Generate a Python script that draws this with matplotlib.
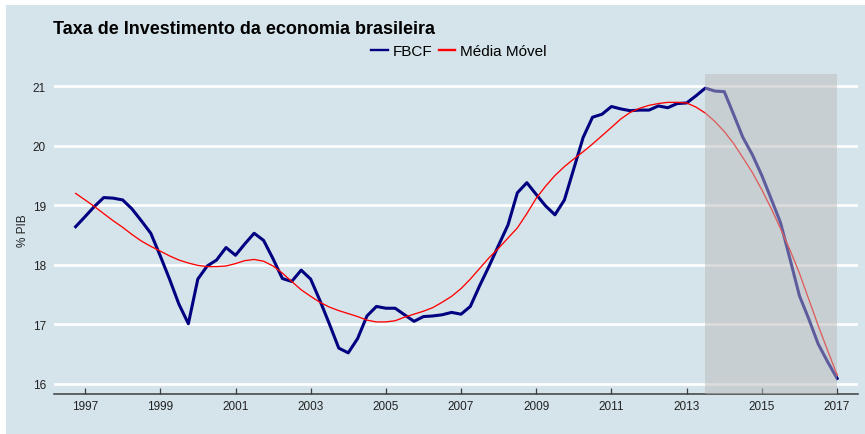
import matplotlib
matplotlib.use("Agg")
import matplotlib.pyplot as plt
import pandas as pd
from matplotlib.patches import Rectangle

# FBCF como % do PIB, trimestral, a partir de 1996T4
fbcf = [18.64, 18.81, 18.98, 19.13, 19.12, 19.09, 18.94, 18.74, 18.53, 18.15,
        17.76, 17.34, 17.01, 17.76, 17.98, 18.08, 18.29, 18.16, 18.35, 18.53,
        18.41, 18.10, 17.77, 17.72, 17.91, 17.76, 17.40, 17.01, 16.60, 16.52,
        16.76, 17.14, 17.30, 17.27, 17.27, 17.16, 17.05, 17.13, 17.14, 17.16,
        17.20, 17.17, 17.30, 17.65, 17.98, 18.33, 18.67, 19.21, 19.38, 19.18,
        18.99, 18.84, 19.09, 19.62, 20.14, 20.48, 20.53, 20.66, 20.62, 20.59,
        20.60, 20.60, 20.67, 20.64, 20.71, 20.72, 20.84, 20.97, 20.92, 20.91,
        20.53, 20.14, 19.85, 19.50, 19.11, 18.71, 18.10, 17.48, 17.09, 16.67,
        16.37, 16.09]

media_movel = [19.20, 19.09, 18.98, 18.86, 18.74, 18.63, 18.51, 18.40, 18.31, 18.23,
               18.15, 18.08, 18.03, 17.99, 17.97, 17.97, 17.98, 18.02, 18.07, 18.09,
               18.06, 17.98, 17.86, 17.72, 17.58, 17.47, 17.37, 17.29, 17.23, 17.18,
               17.13, 17.07, 17.04, 17.04, 17.06, 17.12, 17.17, 17.22, 17.28, 17.37,
               17.47, 17.60, 17.76, 17.94, 18.12, 18.28, 18.45, 18.62, 18.86, 19.12,
               19.32, 19.50, 19.65, 19.78, 19.90, 20.03, 20.17, 20.31, 20.45, 20.56,
               20.63, 20.68, 20.71, 20.73, 20.73, 20.72, 20.65, 20.55, 20.41, 20.24,
               20.04, 19.80, 19.55, 19.26, 18.95, 18.61, 18.25, 17.86, 17.42, 16.98,
               16.56, 16.15]

datas = pd.date_range("1996-10-01", periods=len(fbcf), freq="QS")
anos_ticks = list(range(1997, 2018, 2))
periodo_destaque = ("2013-07-01", "2017-01-01")

bg = "#d5e4eb"
plt.rcParams["font.family"] = ["Liberation Sans", "DejaVu Sans"]

fig = plt.figure(figsize=(8.65, 4.35), dpi=100, facecolor="white")
# fundo (imagem original tem uma pequena borda branca em cima e à esquerda)
fig.patches.append(Rectangle((6 / 865, 0), 1, 1 - 6 / 435, transform=fig.transFigure,
                             facecolor=bg, edgecolor="none", zorder=-10))

ax = fig.add_axes([53.5 / 865, 1 - 394.5 / 435, (858 - 53.5) / 865, 320 / 435])
ax.set_facecolor(bg)

ax.plot(datas, fbcf, color="#000080", lw=2.2, label="FBCF", zorder=3)
ax.plot(datas, media_movel, color="#ff0000", lw=0.95, label="Média Móvel", zorder=3)
ax.axvspan(pd.Timestamp(periodo_destaque[0]), pd.Timestamp(periodo_destaque[1]),
           color="#bbbbbb", alpha=0.5, lw=0, zorder=4)

ax.set_ylim(15.837, 21.215)
ax.set_xlim(pd.Timestamp("1996-02-29"), pd.Timestamp("2017-07-23"))
ax.set_yticks([16, 17, 18, 19, 20, 21])
ax.set_xticks([pd.Timestamp(f"{a}-01-01") for a in anos_ticks])
ax.set_xticklabels([str(a) for a in anos_ticks])

ax.grid(axis="y", color="white", lw=1.9, zorder=1)
ax.grid(axis="x", visible=False)
ax.set_axisbelow(True)

for s in ["top", "right", "left"]:
    ax.spines[s].set_visible(False)
ax.spines["bottom"].set_color("#3c3c3c")
ax.spines["bottom"].set_linewidth(1.1)

ax.tick_params(axis="y", length=0, pad=5.5, labelsize=8.5, labelcolor="#222222")
ax.tick_params(axis="x", direction="in", length=4.2, width=0.9, color="#3c3c3c",
               pad=4.5, labelsize=8.5, labelcolor="#222222")

fig.text(53 / 865, 1 - 34 / 435, "Taxa de Investimento da economia brasileira",
         fontsize=13, fontweight="bold", ha="left", va="baseline")
fig.text(22.5 / 865, 1 - 231 / 435, "% PIB", rotation=90, fontsize=8.5,
         ha="center", va="center", color="#222222")

leg = fig.legend(loc="center", bbox_to_anchor=(459 / 865, 1 - 52.5 / 435), ncol=2,
                 frameon=False, fontsize=11, handlelength=1.1, handletextpad=0.3,
                 columnspacing=0.4, borderaxespad=0, borderpad=0)
# na legenda as duas linhas têm a mesma espessura
for h in leg.get_lines():
    h.set_linewidth(1.7)

fig.savefig("out.png", dpi=100, facecolor=fig.get_facecolor())
